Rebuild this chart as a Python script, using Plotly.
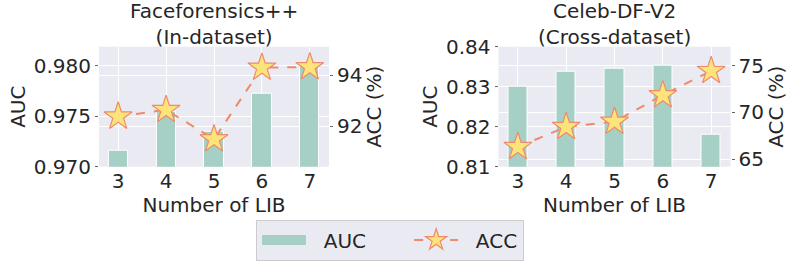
import plotly.graph_objects as go
from plotly.subplots import make_subplots

num_lib = [3, 4, 5, 6, 7]
ff_auc = [0.9716, 0.9754, 0.9735, 0.9772, 0.9800]
ff_acc = [92.39, 92.65, 91.50, 94.31, 94.33]
cd_auc = [0.8300, 0.8337, 0.8346, 0.8352, 0.8181]
cd_acc = [66.3, 68.45, 69.0, 71.85, 74.45]

panel_titles = ["Faceforensics++<br>(In-dataset)", "Celeb-DF-V2<br>(Cross-dataset)"]

BAR = "#A6D0C5"
LINE = "#EE8A6D"
STAR = "#FDE47A"
BG = "#EAEAF2"
TXT = "#262626"
FONT = "DejaVu Sans"
FS = 20
NB = "\u00a0"

fig = make_subplots(rows=1, cols=2, specs=[[{"secondary_y": True}, {"secondary_y": True}]])

for i, (auc, acc) in enumerate([(ff_auc, ff_acc), (cd_auc, cd_acc)]):
    col = i + 1
    fig.add_trace(go.Bar(x=num_lib, y=auc, width=0.4, name="AUC",
                         marker=dict(color=BAR, line=dict(color="white", width=1)),
                         showlegend=False),
                  row=1, col=col, secondary_y=False)
    fig.add_trace(go.Scatter(x=num_lib, y=acc, name=NB * 2 + "ACC", mode="lines+markers",
                             line=dict(color=LINE, width=2, dash="dash"),
                             marker=dict(symbol="star", size=21, color=STAR,
                                         line=dict(color=LINE, width=1.2)),
                             showlegend=(i == 0), legendrank=2),
                  row=1, col=col, secondary_y=True)

# legend proxy for the bars (wide swatch like the reference)
fig.add_trace(go.Scatter(x=[None], y=[None], mode="lines", name=NB * 2 + "AUC" + NB * 6,
                         line=dict(color=BAR, width=15), legendrank=1, showlegend=True),
              row=1, col=1, secondary_y=False)

ydom = [1 - 166.7 / 263, 1 - 46.7 / 263]
xdoms = [[99 / 789, 329 / 789], [498.5 / 789, 730.5 / 789]]

tf = dict(family=FONT, size=FS, color=TXT)
axis_common = dict(showgrid=True, gridcolor="white", gridwidth=1.3, zeroline=False,
                   showline=False, ticks="outside", ticklen=3, tickwidth=1,
                   tickcolor="#666666", tickfont=tf, automargin=False)
xaxis_common = {**axis_common, "ticks": ""}

fig.update_layout(
    xaxis=dict(domain=xdoms[0], range=[2.6, 7.4], tickvals=num_lib,
               title=dict(text="Number of LIB", font=tf, standoff=4), **xaxis_common),
    xaxis2=dict(domain=xdoms[1], range=[2.6, 7.4], tickvals=num_lib,
                title=dict(text="Number of LIB", font=tf, standoff=4), **xaxis_common),
    yaxis=dict(domain=ydom, range=[0.970, 0.98186], tickvals=[0.970, 0.975, 0.980],
               ticktext=["0.970", "0.975", "0.980"],
               title=dict(text="AUC", font=tf, standoff=2), **axis_common),
    yaxis2=dict(range=[90.42, 95.13], tickvals=[92, 94], overlaying="y", side="right",
                title=dict(text="ACC (%)", font=tf, standoff=5), **axis_common),
    yaxis3=dict(domain=ydom, range=[0.81, 0.84], tickvals=[0.81, 0.82, 0.83, 0.84],
                title=dict(text="AUC", font=tf, standoff=2), **axis_common),
    yaxis4=dict(range=[64.18, 77.04], tickvals=[65, 70, 75], overlaying="y3", side="right",
                title=dict(text="ACC (%)", font=tf, standoff=4), **axis_common),
)

for i, t in enumerate(panel_titles):
    xc = (xdoms[i][0] + xdoms[i][1]) / 2
    fig.add_annotation(text=t, x=xc, y=1 - 23.5 / 263, xref="paper", yref="paper",
                       showarrow=False, font=tf, xanchor="center", yanchor="middle")

fig.update_layout(
    width=789, height=263,
    margin=dict(l=0, r=0, t=0, b=0),
    paper_bgcolor="white", plot_bgcolor=BG,
    bargap=0,
    font=tf,
    legend=dict(orientation="h", x=390 / 789, y=1 - 240 / 263, xanchor="center", yanchor="middle",
                bgcolor=BG, bordercolor="#CCCCCC", borderwidth=1,
                font=tf, itemwidth=44, traceorder="normal"),
)

fig.write_html("out.html", config={"displayModeBar": False},
               post_script="document.body.style.margin='0';")
